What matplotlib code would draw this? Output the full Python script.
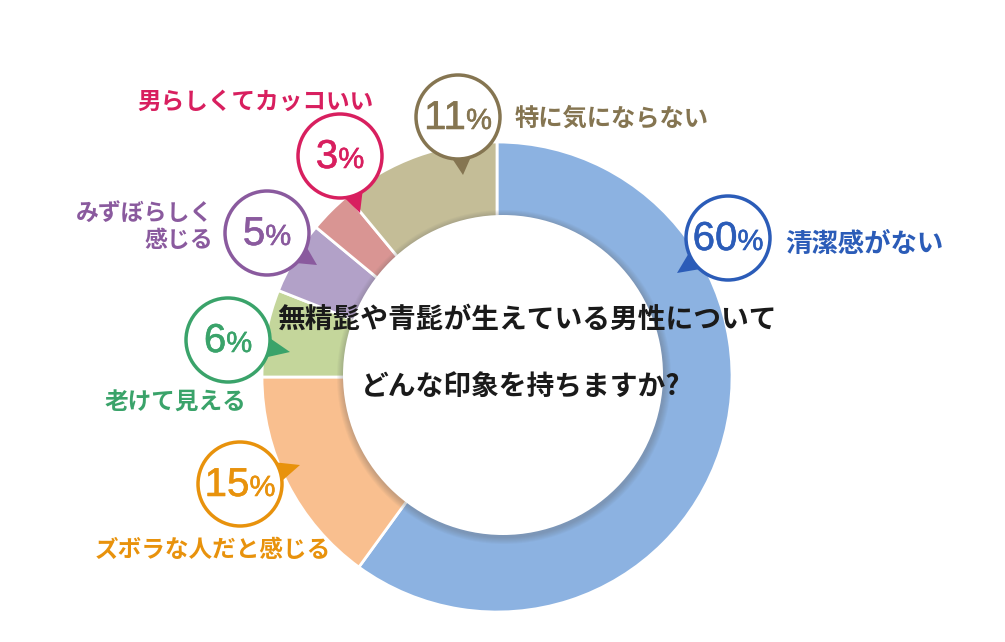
import matplotlib
matplotlib.use('Agg')
import matplotlib.pyplot as plt
import matplotlib.patheffects as pe
from matplotlib.patches import Circle, Polygon
from matplotlib.offsetbox import TextArea, HPacker, AnnotationBbox
import numpy as np

plt.rcParams['font.family'] = ['Noto Sans CJK JP', 'DejaVu Sans']

# data
labels = ['清潔感がない', 'ズボラな人だと感じる', '老けて見える',
          'みずぼらしく\n感じる', '男らしくてカッコいい', '特に気にならない']
values = [60, 15, 6, 5, 3, 11]
title_lines = ['無精髭や青髭が生えている男性について', 'どんな印象を持ちますか?']

# styles
wedge_colors = ['#8cb2e1', '#f9bf8f', '#c4d69b', '#b2a1c8', '#d99593', '#c4bd97']
text_colors = ['#2b5cb8', '#e8920c', '#3aa36a', '#8a5a9e', '#d81f5f', '#857551']

# layout in pixel coords (y down): bubble centre, pointer tip, label anchor
bubble_xy = [(728, 238), (240, 484), (228, 340), (267, 233), (340, 156), (458, 117)]
tip_xy = [(677, 273), (300, 465), (290, 352), (317, 265), (360, 213), (463, 175)]
label_xy = [(785, 245), (213, 550), (175, 403), (213, 227), (255, 102), (515, 118)]
label_ha = ['left', 'center', 'center', 'right', 'center', 'left']
label_size = [19, 17, 17, 16.5, 17, 17.5]
num_font = ['Liberation Sans Narrow', 'Liberation Sans']

W, H = 1005, 642
fig = plt.figure(figsize=(W / 100, H / 100), dpi=100)
ax = fig.add_axes([0, 0, 1, 1])

cx, cy, R = 497, 377, 235
# y axis is inverted, so startangle -90 / counterclock draws clockwise from top
ax.pie(values, colors=wedge_colors, center=(cx, cy), radius=R,
       startangle=-90, counterclock=True, explode=[0.03, 0, 0, 0, 0, 0],
       wedgeprops=dict(width=88, edgecolor='white', linewidth=2))

# inner white disk with soft shadow
hx, hy, hr = 503, 375, 160
for k in range(7, 0, -1):
    ax.add_patch(Circle((hx + 1, hy + 2), hr + k, color='#606060', alpha=0.05, lw=0, zorder=3))
ax.add_patch(Circle((hx, hy), hr, color='white', lw=0, zorder=4))

ax.text(527, 320, title_lines[0], ha='center', va='center', fontsize=20,
        fontweight='bold', color='#1a1a1a', zorder=10)
ax.text(521, 388, title_lines[1], ha='center', va='center', fontsize=20,
        fontweight='bold', color='#1a1a1a', zorder=10)

for i in range(len(values)):
    bx, by = bubble_xy[i]
    tx, ty = tip_xy[i]
    r = 42
    u = np.array([tx - bx, ty - by], dtype=float)
    u /= np.linalg.norm(u)
    p = np.array([-u[1], u[0]])
    base = np.array([bx, by]) + u * (r - 4)
    tri = [base + p * 11, base - p * 11, (tx, ty)]
    ax.add_patch(Polygon(tri, closed=True, color=text_colors[i], lw=0, zorder=5))
    ax.add_patch(Circle((bx, by), r, facecolor='white', edgecolor=text_colors[i],
                        lw=2.5, zorder=6))
    stroke = [pe.withStroke(linewidth=0.4, foreground=text_colors[i])]
    num = TextArea(str(values[i]), textprops=dict(fontsize=29, color=text_colors[i],
                                                  family=num_font, path_effects=stroke))
    pct = TextArea('%', textprops=dict(fontsize=21, color=text_colors[i],
                                       family=num_font, path_effects=stroke))
    box = HPacker(children=[num, pct], align='baseline', pad=0, sep=0)
    ab = AnnotationBbox(box, (bx, by + 1), box_alignment=(0.5, 0.5), frameon=False,
                        pad=0, zorder=7)
    ax.add_artist(ab)

    lx, ly = label_xy[i]
    ax.text(lx, ly, labels[i], ha=label_ha[i], va='center', fontsize=label_size[i],
            fontweight='bold', color=text_colors[i], linespacing=1.25,
            multialignment='right', zorder=8)

ax.set_xlim(0, W)
ax.set_ylim(H, 0)
ax.set_aspect('equal')
ax.axis('off')

fig.savefig('out.png', dpi=100, facecolor='white')
